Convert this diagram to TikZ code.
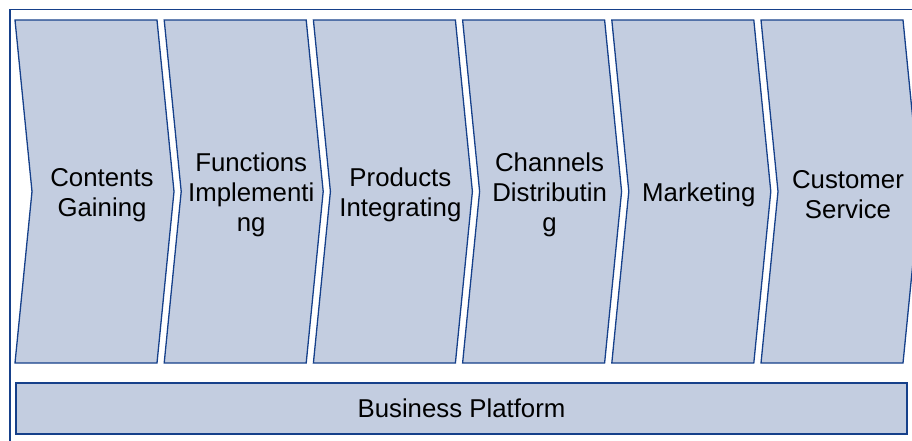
\documentclass[tikz,border=0pt]{standalone}
\usepackage{fontspec}
\setmainfont{Liberation Sans}
\definecolor{chevfill}{RGB}{195,205,224}
\definecolor{chevline}{RGB}{22,64,138}

\begin{document}
\begin{tikzpicture}[x=1pt,y=-1pt,
    chevron/.style={fill=chevfill,draw=chevline,line width=1.3pt,line join=miter},
    steptext/.style={align=center,inner sep=0pt,
      font=\fontsize{25.8}{30}\selectfont}]
  \path[use as bounding box,clip] (0,0) rectangle (912,440);
  \draw[chevline,line width=1.2pt] (10,9.5) rectangle (930,460);
  \foreach \i/\txt in {0/{Contents\\Gaining},1/{Functions\\Implementi\\ng},
      2/{Products\\Integrating},3/{Channels\\Distributin\\g},
      4/{Marketing},5/{Customer\\Service}} {
    \pgfmathsetmacro{\xl}{15+\i*149.2}
    \draw[chevron] (\xl,20) -- ++(142,0) -- ++(17,171.5) -- ++(-17,171.5)
      -- ++(-142,0) -- ++(17,-171.5) -- cycle;
    \node[steptext] (step\i) at (\xl+87,195) {\txt};
  }
  \node[chevron,steptext,minimum width=891pt,minimum height=51pt]
    (platform) at (461.5,408.5) {Business Platform};
\end{tikzpicture}
\end{document}
